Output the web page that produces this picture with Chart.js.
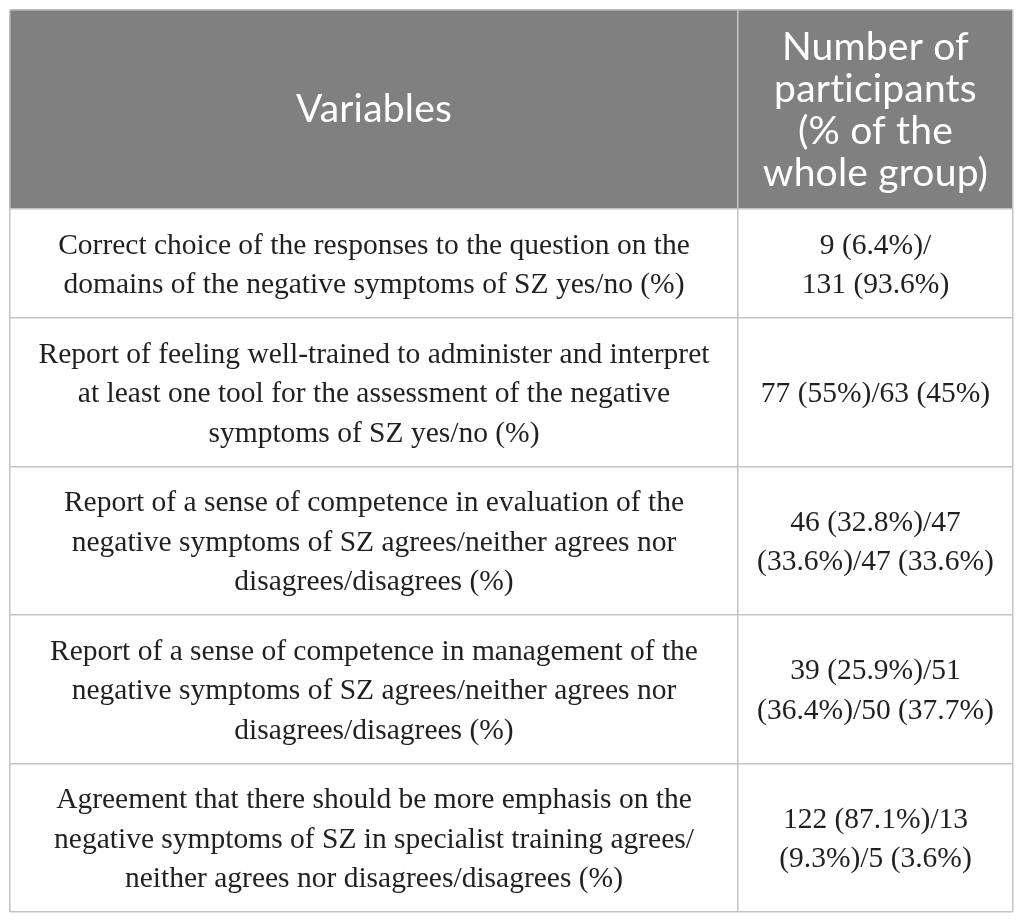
<!DOCTYPE html>
<html>
<head>
<meta charset="utf-8">
<script src="https://cdn.jsdelivr.net/npm/chart.js@4.4.1/dist/chart.umd.min.js"></script>
<style>
  html, body { margin: 0; padding: 0; background: #ffffff; }
  #wrap { width: 1025px; height: 923px; position: relative; }
</style>
</head>
<body>
<div id="wrap"><canvas id="table"></canvas></div>
<script>
// table content
var headerLeft = ["Variables"];
var headerRight = ["Number of", "participants", "(% of the", "whole group)"];

var variables = [
  ["Correct choice of the responses to the question on the",
   "domains of the negative symptoms of SZ yes/no (%)"],
  ["Report of feeling well-trained to administer and interpret",
   "at least one tool for the assessment of the negative",
   "symptoms of SZ yes/no (%)"],
  ["Report of a sense of competence in evaluation of the",
   "negative symptoms of SZ agrees/neither agrees nor",
   "disagrees/disagrees (%)"],
  ["Report of a sense of competence in management of the",
   "negative symptoms of SZ agrees/neither agrees nor",
   "disagrees/disagrees (%)"],
  ["Agreement that there should be more emphasis on the",
   "negative symptoms of SZ in specialist training agrees/",
   "neither agrees nor disagrees/disagrees (%)"]
];

var participants = [
  ["9 (6.4%)/", "131 (93.6%)"],
  ["77 (55%)/63 (45%)"],
  ["46 (32.8%)/47", "(33.6%)/47 (33.6%)"],
  ["39 (25.9%)/51", "(36.4%)/50 (37.7%)"],
  ["122 (87.1%)/13", "(9.3%)/5 (3.6%)"]
];

// row sizes follow the number of text lines in each row
var headLine = 42, bodyLine = 39.5, rowPad = 30;
var headLines = Math.max(headerLeft.length, headerRight.length);
var edges = [0, headLines * headLine + 31];
variables.forEach(function (v, i) {
  var n = Math.max(v.length, participants[i].length);
  edges.push(edges[edges.length - 1] + n * bodyLine + rowPad);
});
var total = edges[edges.length - 1];
var splitAt = 0.7258;

var headFont = '400 39px Lato';
var bodyFont = '400 29.5px "Liberation Serif"';

var tablePlugin = {
  id: 'tableCells',
  beforeDraw: function (chart) {
    var ctx = chart.ctx, x = chart.scales.x, y = chart.scales.y;
    ctx.save();
    ctx.fillStyle = '#7f807f';
    ctx.fillRect(x.getPixelForValue(0), y.getPixelForValue(0),
      x.getPixelForValue(1) - x.getPixelForValue(0),
      y.getPixelForValue(edges[1]) - y.getPixelForValue(0));
    ctx.restore();
  },
  afterDraw: function (chart) {
    var ctx = chart.ctx, x = chart.scales.x, y = chart.scales.y;
    var leftMid = (x.getPixelForValue(0) + x.getPixelForValue(splitAt)) / 2;
    var rightMid = (x.getPixelForValue(splitAt) + x.getPixelForValue(1)) / 2;

    function cell(lines, cx, top, bottom, lh, dy) {
      var mid = (y.getPixelForValue(top) + y.getPixelForValue(bottom)) / 2 + dy;
      var start = mid - (lines.length - 1) * lh / 2;
      lines.forEach(function (t, k) {
        ctx.fillText(t, cx, start + k * lh);
      });
    }

    ctx.save();
    ctx.textAlign = 'center';
    ctx.textBaseline = 'middle';
    ctx.textRendering = 'optimizeSpeed';  // no "ti" ligature in the header
    ctx.letterSpacing = '0.2px';
    ctx.fillStyle = '#ffffff';
    ctx.font = headFont;
    cell(headerLeft, leftMid, edges[0], edges[1], headLine, 0);
    cell(headerRight, rightMid, edges[0], edges[1], headLine, 1);

    ctx.letterSpacing = '0px';
    ctx.fillStyle = '#231f20';
    ctx.font = bodyFont;
    variables.forEach(function (v, i) {
      cell(v, leftMid, edges[i + 1], edges[i + 2], bodyLine, 2);
      cell(participants[i], rightMid, edges[i + 1], edges[i + 2], bodyLine, 2);
    });
    ctx.restore();
  }
};

var gridStyle = { color: '#c3c3c3', lineWidth: 1.5, drawTicks: false };

new Chart(document.getElementById('table').getContext('2d'), {
  type: 'scatter',
  data: { datasets: [{ data: [] }] },
  options: {
    responsive: true,
    maintainAspectRatio: false,
    animation: false,
    events: [],
    layout: { padding: { left: 10, right: 12, top: 10, bottom: 11 } },
    plugins: { legend: { display: false }, tooltip: { enabled: false } },
    scales: {
      x: {
        type: 'linear', min: 0, max: 1,
        grid: gridStyle,
        border: { display: false },
        ticks: { display: false },
        afterBuildTicks: function (axis) {
          axis.ticks = [0, splitAt, 1].map(function (v) { return { value: v }; });
        }
      },
      y: {
        type: 'linear', min: 0, max: total, reverse: true,
        grid: gridStyle,
        border: { display: false },
        ticks: { display: false },
        afterBuildTicks: function (axis) {
          axis.ticks = edges.map(function (v) { return { value: v }; });
        }
      }
    }
  },
  plugins: [tablePlugin]
});
</script>
</body>
</html>
